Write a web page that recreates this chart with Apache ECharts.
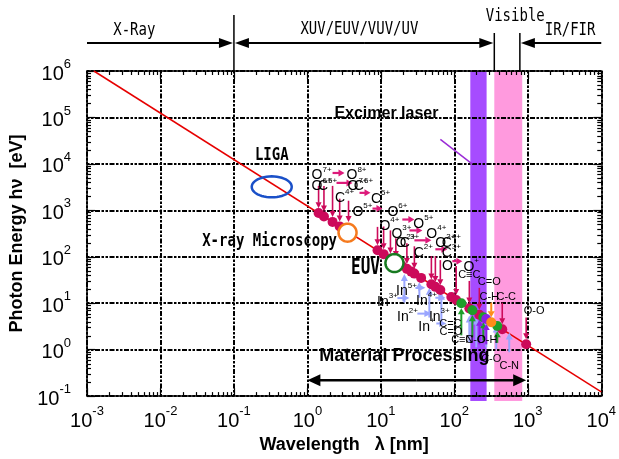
<!DOCTYPE html>
<html>
<head>
<meta charset="utf-8">
<script src="https://cdn.jsdelivr.net/npm/echarts@6.0.0/dist/echarts.min.js"></script>
<style>
html,body{margin:0;padding:0;background:#fff;}
#chart{width:619px;height:459px;}
</style>
</head>
<body>
<div id="chart"></div>
<script>
// ================= DATA =================
const xTickExponents = [-3, -2, -1, 0, 1, 2, 3, 4];
const yTickExponents = [-1, 0, 1, 2, 3, 4, 5, 6];
// photon energy line end points (E = 1240/λ)
const photonLineLambda = [0.00124, 10000];
const photonLineEnergy = [1000000, 0.124];
// shaded bands (nm)
const excimerBand = [165, 275];
const visibleBand = [350, 840];
// spectral regions above the plot
const regionNames = ['X-Ray', 'XUV/EUV/VUV/UV', 'Visible', 'IR/FIR'];
const regionBounds = [0.001, 0.1, 350, 780, 10000];
const regionLabelLambda = [0.0044, 5.1, 675, 3770];

// ionisation / bond points on the line (magenta)
const ionDotLambda = [1.42, 1.68, 2.2, 2.75, 9.0, 10.9, 13.5, 16.0, 19.2, 22.6, 25.9, 28.6, 35.3, 48.7, 55.2, 64.5, 91, 106, 160, 219, 449, 950];
const ionDotEnergy = [873, 738, 564, 451, 138, 114, 91.9, 77.5, 64.6, 54.9, 47.9, 43.4, 35.1, 25.5, 22.5, 19.2, 13.6, 11.7, 7.75, 5.66, 2.76, 1.31];
// vertical magenta arrows: lambda, energy from, energy to
const ionArrowLambda = [1.42, 1.68, 2.2, 2.75, 3.63, 9.0, 10.9, 13.5, 16.0, 22.6, 28.6, 48.7, 55.2, 64.5, 106, 160, 219, 449, 950];
const ionArrowFrom   = [3360, 3360, 3360, 1780, 1610, 440, 449, 370, 249, 195, 168, 103, 103, 84.7, 63, 30.2, 21.4, 10.3, 4.91];
const ionArrowTo     = [1115, 943, 720, 576, 560, 176, 146, 117, 99, 70, 55.5, 32.6, 28.8, 24.5, 15.0, 9.9, 7.2, 3.53, 1.67];
// horizontal ionisation-step arrows (pink): lambda from, lambda to, energy
const stepArrowFrom   = [2.2, 2.49, 5.12, 7.69, 19.6, 24.5, 28.6, 55.2, 94];
const stepArrowTo     = [3.2, 4.11, 7.22, 10.5, 28.6, 36.7, 48.7, 80.4, 128.5];
const stepArrowEnergy = [6370, 3900, 2380, 1090, 634, 369, 226, 145, 80.5];
// ion labels
const ionLabelBase   = ['O', 'O', 'O', 'C', 'O', 'C', 'C', 'C', 'O', 'O', 'O', 'O', 'O', 'O', 'O', 'C', 'O', 'C', 'C', 'C', 'O', 'O'];
const ionLabelSup    = ['7+', '8+', '6+', '5+', '7+', '6+', '4+', '5+', '5+', '6+', '4+', '5+', '3+', '4+', '2+', '3+', '3+', '4+', '2+', '3+', '', '+'];
const ionLabelLambda = [1.56, 4.66, 1.56, 1.88, 4.81, 5.8, 3.2, 9.9, 5.62, 16.8, 13.1, 37.9, 19.05, 56.9, 21.6, 24.5, 75.5, 91, 37.9, 91, 80.4, 170];
const ionLabelEnergy = [6070, 6070, 3530, 3530, 3530, 3530, 1960, 1900, 986, 986, 495, 547, 335, 335, 215, 215, 215, 215, 132, 132, 66.2, 66];
// indium ion labels
const inLabelSup    = ['5+', '3+', '4+', '2+', '3+', '+'];
const inLabelLambda = [22.3, 12.3, 41.7, 23, 62.5, 41.7];
const inLabelEnergy = [19.4, 11.3, 11.9, 5.42, 5.42, 3.31];
// indium arrows (light blue): horizontal
const inStepFrom   = [29.5, 55.2, 16.8, 31.4, 56.9];
const inStepTo     = [40.4, 75.5, 24.5, 48.7, 77.8];
const inStepEnergy = [21.4, 13.1, 12.9, 5.97, 3.66];
// light blue upward arrows: lambda, energy from, energy to
const blueUpLambda = [20.9, 33.4, 45.7, 66.6, 160, 199, 272, 372, 559];
const blueUpFrom   = [10.3, 13.1, 4.91, 3.84, 1.44, 1.12, 1.12, 1.02, 0.88];
const blueUpTo     = [42.6, 28.7, 21.4, 16.7, 5.42, 4.91, 4.45, 3.31, 2.35];
// bond labels
const bondLabels      = ['C≡C', 'C=O', 'C-H', 'C-C', 'O-O', 'C=C', 'C=O', 'C≡N', 'C-O', 'O-H', 'C-O', 'C-N'];
const bondLabelLambda = [160, 299, 299, 509, 1222, 88.3, 90.3, 128.5, 193, 281, 318, 559];
const bondLabelEnergy = [40.5, 28.7, 13.8, 13.8, 6.92, 3.66, 2.35, 1.585, 1.585, 1.585, 0.624, 0.443];
// green bond points and upward arrows
const greenDotLambda = [124.5, 176, 248, 384];
const greenDotEnergy = [9.96, 7.05, 5.0, 3.23];
const greenArrowFrom = [2.03, 1.84, 1.6, 1.4];
const greenArrowTo   = [7.8, 5.5, 3.9, 2.5];
// purple points / arrows
const purpleDotLambda = [272];
const purpleDotEnergy = [4.56];
const purpleArrowLambda = [220, 272];
const purpleArrowFrom = [1.3, 1.3];
const purpleArrowTo = [4.4, 3.57];
// orange point / arrow
const orangeDotLambda = [318];
const orangeDotEnergy = [3.9];
const orangeArrowLambda = [318];
const orangeArrowFrom = [10.3];
const orangeArrowTo = [5.0];
// highlighted applications: LIGA, X-ray microscopy, EUV
const appLambda = [0.327, 3.52, 15.3];
const appEnergy = [3200, 330, 73.1];
// annotation texts
const noteTexts  = ['LIGA', 'X-ray Microscopy', 'EUV', 'Excimer laser', 'Material Processing'];
const noteLambda = [0.327, 0.306, 6.18, 11.9, 20.9];
const noteEnergy = [15400, 215, 54.5, 121000, 0.72];
// excimer pointer line
const excimerPointerLambda = [64.5, 176];
const excimerPointerEnergy = [33800, 9900];
// material processing range
const processingRange = [1, 950];
const processingEnergy = 0.22;

// ================= CHART =================
const chart = echarts.init(document.getElementById('chart'), null, {renderer: 'canvas'});
const BLACK = '#000';
const MAG = '#cc0a5a';
const PINK_ARROW = '#dd1a7a';
const LAV = '#9aa6ff';
const GREEN = '#1e9e2a';
const ORANGE = '#ff8c1a';
const PURPLE = '#8a1ee6';

function powFmt(v) {
  const e = Math.round(Math.log10(v));
  return '{b|10}{s|' + e + '}';
}
const tickRich = {
  b: {fontSize: 20, fontFamily: 'Liberation Sans', color: BLACK, verticalAlign: 'bottom', padding: [6, 0, 0, 0]},
  s: {fontSize: 13, fontFamily: 'Liberation Sans', color: BLACK, verticalAlign: 'top'}
};

function arrowEls(p1, p2, color, lw, hl, hw) {
  const dx = p2[0] - p1[0], dy = p2[1] - p1[1];
  const L = Math.hypot(dx, dy) || 1;
  const ux = dx / L, uy = dy / L;
  const bx = p2[0] - ux * hl, by = p2[1] - uy * hl;
  return [
    {type: 'line', shape: {x1: p1[0], y1: p1[1], x2: bx + ux * 0.5, y2: by + uy * 0.5}, style: {stroke: color, lineWidth: lw}},
    {type: 'polygon', shape: {points: [[p2[0], p2[1]], [bx - uy * hw, by + ux * hw], [bx + uy * hw, by - ux * hw]]}, style: {fill: color}}
  ];
}

function vArrowSeries(lams, from, to, color, lw, hl, hw, z) {
  return {
    type: 'custom', coordinateSystem: 'cartesian2d', z: z, silent: true,
    data: lams.map((l, i) => [l, from[i], to[i]]),
    encode: {x: 0, y: [1, 2]},
    renderItem: (params, api) => {
      const p1 = api.coord([api.value(0), api.value(1)]);
      const p2 = api.coord([api.value(0), api.value(2)]);
      return {type: 'group', children: arrowEls(p1, p2, color, lw, hl, hw)};
    }
  };
}
function hArrowSeries(from, to, en, color, lw, hl, hw, z) {
  return {
    type: 'custom', coordinateSystem: 'cartesian2d', z: z, silent: true,
    data: from.map((l, i) => [l, to[i], en[i]]),
    encode: {x: [0, 1], y: 2},
    renderItem: (params, api) => {
      const p1 = api.coord([api.value(0), api.value(2)]);
      const p2 = api.coord([api.value(1), api.value(2)]);
      return {type: 'group', children: arrowEls(p1, p2, color, lw, hl, hw)};
    }
  };
}
function dotSeries(lams, ens, color, size, z) {
  return {
    type: 'scatter', z: z, silent: true, symbol: 'circle', symbolSize: size,
    data: lams.map((l, i) => [l, ens[i]]),
    itemStyle: {color: color, opacity: 1}
  };
}

const supRich = {
  b: {fontSize: 14, fontFamily: 'Liberation Sans', fill: BLACK, verticalAlign: 'bottom', padding: [3, 0, 0, 0]},
  s: {fontSize: 8, fontFamily: 'Liberation Sans', fill: BLACK, verticalAlign: 'top'}
};

function minorTicks(lo, hi) {
  const out = [];
  for (let e = lo; e < hi; e++) for (let k = 2; k <= 9; k++) out.push(k * Math.pow(10, e));
  return out;
}
const xMinor = minorTicks(-3, 4);
const yMinor = minorTicks(-1, 6);

const gridDash = [2.5, 1.5, 2.5, 1.5, 5, 1.5];

const option = {
  animation: false,
  backgroundColor: '#fff',
  grid: {left: 87, right: 17, top: 71, bottom: 60, show: false},
  xAxis: [{
    type: 'log', logBase: 10, min: 0.001, max: 10000, splitNumber: 7, position: 'bottom',
    axisLine: {show: true, onZero: false, lineStyle: {color: BLACK, width: 1.5}},
    axisTick: {show: true, inside: true, length: 8, lineStyle: {color: BLACK, width: 1.2}},
    axisLabel: {formatter: powFmt, rich: tickRich, margin: 9},
    splitLine: {show: true, lineStyle: {color: BLACK, width: 2, type: gridDash}},
    name: 'Wavelength   λ [nm]', nameLocation: 'middle', nameGap: 35,
    nameTextStyle: {fontSize: 18, fontWeight: 'bold', fontFamily: 'Liberation Sans', color: BLACK}
  }, {
    type: 'log', logBase: 10, min: 0.001, max: 10000, splitNumber: 7, position: 'top',
    axisLine: {show: true, onZero: false, lineStyle: {color: BLACK, width: 1.5}},
    axisTick: {show: true, inside: true, length: 8, lineStyle: {color: BLACK, width: 1.2}},
    axisLabel: {show: false}, splitLine: {show: false}
  }],
  yAxis: [{
    type: 'log', logBase: 10, min: 0.1, max: 1000000, splitNumber: 7, position: 'left',
    axisLine: {show: true, onZero: false, lineStyle: {color: BLACK, width: 1.5}},
    axisTick: {show: true, inside: true, length: 8, lineStyle: {color: BLACK, width: 1.2}},
    axisLabel: {formatter: powFmt, rich: tickRich, margin: 16},
    splitLine: {show: true, lineStyle: {color: BLACK, width: 2, type: gridDash}},
    name: 'Photon Energy hν  [eV]', nameLocation: 'middle', nameGap: 56, nameRotate: 90,
    nameTextStyle: {fontSize: 18, fontWeight: 'bold', fontFamily: 'Liberation Sans', color: BLACK}
  }, {
    type: 'log', logBase: 10, min: 0.1, max: 1000000, splitNumber: 7, position: 'right',
    axisLine: {show: true, onZero: false, lineStyle: {color: BLACK, width: 1.5}},
    axisTick: {show: true, inside: true, length: 8, lineStyle: {color: BLACK, width: 1.2}},
    axisLabel: {show: false}, splitLine: {show: false}
  }],
  series: [
    // bands
    {
      type: 'custom', coordinateSystem: 'cartesian2d', z: -1, clip: false, silent: true,
      data: [[excimerBand[0], excimerBand[1], 0], [visibleBand[0], visibleBand[1], 1]],
      encode: {x: [0, 1]},
      renderItem: (params, api) => {
        const cs = params.coordSys;
        const x1 = api.coord([api.value(0), 1])[0];
        const x2 = api.coord([api.value(1), 1])[0];
        const col = api.value(2) === 0 ? '#a64cff' : '#ff9ade';
        return {type: 'rect', shape: {x: x1, y: cs.y, width: x2 - x1, height: cs.height + 5}, style: {fill: col}};
      }
    },
    // minor ticks on all four sides
    {
      type: 'custom', coordinateSystem: 'cartesian2d', z: 5, clip: false, silent: true,
      data: xMinor.map(v => [v, 1]),
      encode: {x: 0, y: 1},
      renderItem: (params, api) => {
        const cs = params.coordSys;
        const x = Math.round(api.coord([api.value(0), 1])[0]) + 0.5;
        const st = {stroke: BLACK, lineWidth: 1.2};
        return {type: 'group', children: [
          {type: 'line', shape: {x1: x, y1: cs.y + cs.height, x2: x, y2: cs.y + cs.height - 4}, style: st},
          {type: 'line', shape: {x1: x, y1: cs.y, x2: x, y2: cs.y + 4}, style: st}
        ]};
      }
    },
    {
      type: 'custom', coordinateSystem: 'cartesian2d', z: 5, clip: false, silent: true,
      data: yMinor.map(v => [1, v]),
      encode: {x: 0, y: 1},
      renderItem: (params, api) => {
        const cs = params.coordSys;
        const y = Math.round(api.coord([1, api.value(1)])[1]) + 0.5;
        const st = {stroke: BLACK, lineWidth: 1.2};
        return {type: 'group', children: [
          {type: 'line', shape: {x1: cs.x, y1: y, x2: cs.x + 4, y2: y}, style: st},
          {type: 'line', shape: {x1: cs.x + cs.width, y1: y, x2: cs.x + cs.width - 4, y2: y}, style: st}
        ]};
      }
    },
    // photon energy line
    {
      type: 'line', z: 3, silent: true, showSymbol: false,
      data: photonLineLambda.map((l, i) => [l, photonLineEnergy[i]]),
      lineStyle: {color: '#e60000', width: 1.5}
    },
    // excimer pointer
    {
      type: 'line', z: 3, silent: true, showSymbol: false,
      data: excimerPointerLambda.map((l, i) => [l, excimerPointerEnergy[i]]),
      lineStyle: {color: '#9a2bd6', width: 1.5}
    },
    // arrows
    vArrowSeries(blueUpLambda, blueUpFrom, blueUpTo, LAV, 2, 7, 3.5, 6),
    hArrowSeries(inStepFrom, inStepTo, inStepEnergy, LAV, 2, 7, 3.5, 6),
    vArrowSeries(ionArrowLambda, ionArrowFrom, ionArrowTo, MAG, 1.6, 6, 3, 7),
    hArrowSeries(stepArrowFrom, stepArrowTo, stepArrowEnergy, PINK_ARROW, 2.2, 6, 3.5, 7),
    vArrowSeries(greenDotLambda, greenArrowFrom, greenArrowTo, GREEN, 2, 6, 3.5, 7),
    vArrowSeries(purpleArrowLambda, purpleArrowFrom, purpleArrowTo, PURPLE, 2, 6, 3.5, 7),
    vArrowSeries(orangeArrowLambda, orangeArrowFrom, orangeArrowTo, ORANGE, 2, 6, 3.5, 7),
    // dots
    dotSeries(ionDotLambda, ionDotEnergy, MAG, 10, 8),
    dotSeries(greenDotLambda, greenDotEnergy, GREEN, 10, 8),
    dotSeries(purpleDotLambda, purpleDotEnergy, PURPLE, 10, 8),
    dotSeries(orangeDotLambda, orangeDotEnergy, ORANGE, 10, 8),
    // application circles
    {
      type: 'custom', coordinateSystem: 'cartesian2d', z: 9, silent: true,
      data: appLambda.map((l, i) => [l, appEnergy[i], i]),
      encode: {x: 0, y: 1},
      renderItem: (params, api) => {
        const p = api.coord([api.value(0), api.value(1)]);
        const i = api.value(2);
        const rx = [20, 9, 9][i], ry = [10.5, 9, 9][i];
        const col = ['#1a50c8', '#f57a1e', '#177a20'][i];
        const pts = [];
        for (let k = 0; k < 48; k++) {
          const a = k / 48 * Math.PI * 2;
          pts.push([p[0] + rx * Math.cos(a), p[1] + ry * Math.sin(a)]);
        }
        return {type: 'polygon', shape: {points: pts}, style: {fill: i === 0 ? 'rgba(0,0,0,0)' : '#fff', stroke: col, lineWidth: 2.5}};
      }
    },
    // ion labels
    {
      type: 'custom', coordinateSystem: 'cartesian2d', z: 10, silent: true,
      data: ionLabelLambda.map((l, i) => [l, ionLabelEnergy[i], i]),
      encode: {x: 0, y: 1},
      renderItem: (params, api) => {
        const p = api.coord([api.value(0), api.value(1)]);
        const i = api.value(2);
        const t = '{b|' + ionLabelBase[i] + '}' + (ionLabelSup[i] ? '{s|' + ionLabelSup[i] + '}' : '');
        return {type: 'text', x: p[0], y: p[1], style: {text: t, rich: supRich, align: 'center', verticalAlign: 'middle'}};
      }
    },
    // In labels
    {
      type: 'custom', coordinateSystem: 'cartesian2d', z: 10, silent: true,
      data: inLabelLambda.map((l, i) => [l, inLabelEnergy[i], i]),
      encode: {x: 0, y: 1},
      renderItem: (params, api) => {
        const p = api.coord([api.value(0), api.value(1)]);
        const i = api.value(2);
        const t = '{b|In}{s|' + inLabelSup[i] + '}';
        return {type: 'text', x: p[0], y: p[1], style: {text: t, rich: supRich, align: 'center', verticalAlign: 'middle'}};
      }
    },
    // bond labels
    {
      type: 'custom', coordinateSystem: 'cartesian2d', z: 10, silent: true,
      data: bondLabelLambda.map((l, i) => [l, bondLabelEnergy[i], i]),
      encode: {x: 0, y: 1},
      renderItem: (params, api) => {
        const p = api.coord([api.value(0), api.value(1)]);
        const i = api.value(2);
        return {type: 'text', x: p[0], y: p[1], style: {text: bondLabels[i], fontSize: 11, fontFamily: 'Liberation Sans', fill: BLACK, align: 'center', verticalAlign: 'middle'}};
      }
    },
    // note texts
    {
      type: 'custom', coordinateSystem: 'cartesian2d', z: 11, silent: true, clip: false,
      data: noteLambda.map((l, i) => [l, noteEnergy[i], i]),
      encode: {x: 0, y: 1},
      renderItem: (params, api) => {
        const p = api.coord([api.value(0), api.value(1)]);
        const i = api.value(2);
        const mono = i <= 2;
        const size = [14, 14, 16, 16, 18][i];
        return {type: 'text', x: p[0], y: p[1], scaleY: mono ? 1.3 : 1,
          style: {text: noteTexts[i], fontSize: size, fontWeight: 'bold',
            fontFamily: mono ? 'DejaVu Sans Mono' : 'Liberation Sans', fill: BLACK, align: 'center', verticalAlign: 'middle'}};
      }
    },
    // material processing double arrow
    {
      type: 'custom', coordinateSystem: 'cartesian2d', z: 11, silent: true,
      data: [[processingRange[0], processingRange[1], processingEnergy]],
      encode: {x: [0, 1], y: 2},
      renderItem: (params, api) => {
        const p1 = api.coord([api.value(0), api.value(2)]);
        const p2 = api.coord([api.value(1), api.value(2)]);
        const mid = [(p1[0] + p2[0]) / 2, p1[1]];
        return {type: 'group', children: arrowEls(mid, p1, BLACK, 2.5, 13, 6).concat(arrowEls(mid, p2, BLACK, 2.5, 13, 6))};
      }
    }
  ]
};
chart.setOption(option);

// ---- spectral regions above the plot ----
const X = v => chart.convertToPixel({xAxisIndex: 0}, v);
const topY = 71, arrowY = 43;
function gArrow(x1, x2, y) {
  const dir = Math.sign(x2 - x1);
  return [
    {type: 'line', shape: {x1: x1, y1: y, x2: x2 - dir * 12, y2: y}, style: {stroke: BLACK, lineWidth: 2}},
    {type: 'polygon', shape: {points: [[x2, y], [x2 - dir * 14, y - 5], [x2 - dir * 14, y + 5]]}, style: {fill: BLACK}}
  ];
}
const xb = regionBounds.map(X);
const gEls = [];
gEls.push({type: 'line', shape: {x1: xb[1], y1: 15, x2: xb[1], y2: topY}, style: {stroke: BLACK, lineWidth: 1.5}});
gEls.push({type: 'line', shape: {x1: xb[2], y1: 33, x2: xb[2], y2: topY}, style: {stroke: BLACK, lineWidth: 1.5}});
gEls.push({type: 'line', shape: {x1: xb[3], y1: 33, x2: xb[3], y2: topY}, style: {stroke: BLACK, lineWidth: 1.5}});
gEls.push(...gArrow(xb[0], xb[1] - 1, arrowY));
const xmid = (xb[1] + xb[2]) / 2;
gEls.push(...gArrow(xmid, xb[1] + 1, arrowY));
gEls.push(...gArrow(xmid, xb[2] - 1, arrowY));
gEls.push(...gArrow(xb[4], xb[3] + 1, arrowY));
const labelYs = [30, 29, 16, 30];
regionNames.forEach((n, i) => {
  gEls.push({type: 'text', x: X(regionLabelLambda[i]), y: labelYs[i], scaleY: 1.3,
    style: {text: n, fontSize: 14, fontFamily: 'DejaVu Sans Mono', fill: BLACK, align: 'center', verticalAlign: 'middle'}});
});
chart.setOption({graphic: {elements: gEls.map(e => Object.assign({silent: true, z: 20}, e))}});
</script>
</body>
</html>
